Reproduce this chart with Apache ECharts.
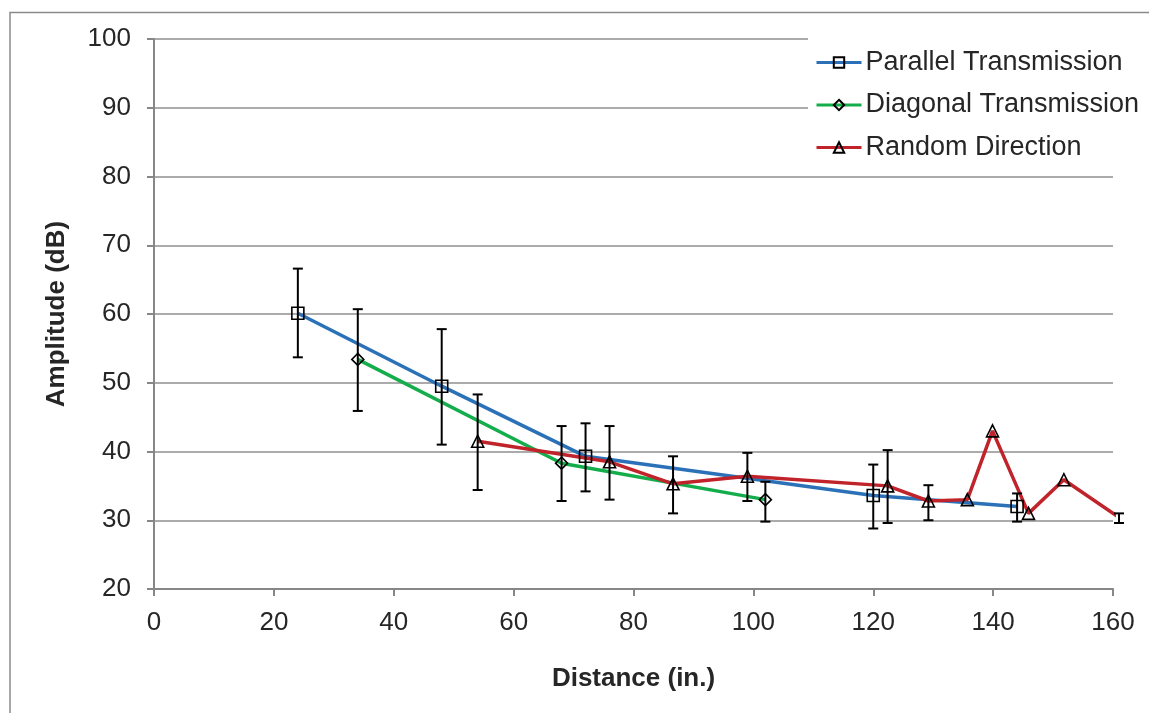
<!DOCTYPE html>
<html>
<head>
<meta charset="utf-8">
<script src="https://cdn.jsdelivr.net/npm/echarts@6/dist/echarts.min.js"></script>
<style>
  html, body { margin: 0; padding: 0; background: #fff; }
  #chart { width: 1149px; height: 713px; }
</style>
</head>
<body>
<div id="chart"></div>
<script>
// Amplitude vs. distance for three transmission set-ups, with error bars
const seriesNames = ['Parallel Transmission', 'Diagonal Transmission', 'Random Direction'];

const parallelX    = [24, 48, 72, 120, 144];
const parallelY    = [60.1, 49.5, 39.3, 33.6, 32.0];
const parallelLow  = [53.7, 41.0, 34.2, 28.8, 29.8];
const parallelHigh = [66.6, 57.8, 44.1, 38.1, 33.9];

const diagonalX    = [34, 68, 102];
const diagonalY    = [53.4, 38.3, 33.0];
const diagonalLow  = [45.9, 32.8, 29.8];
const diagonalHigh = [60.7, 43.7, 35.6];

const randomX    = [54, 76, 86.6, 99, 122.4, 129.2, 135.7, 139.9, 145.9, 151.8, 161];
const randomY    = [41.5, 38.5, 35.3, 36.4, 35.0, 32.8, 33.0, 43.0, 31.0, 35.9, 30.4];
const randomLow  = [34.4, 33.0, 31.0, 32.8, 29.6, 30.0, null, null, null, null, 29.6];
const randomHigh = [48.3, 43.7, 39.3, 39.8, 40.2, 35.1, null, null, null, null, 31.0];

const xTicks = [0, 20, 40, 60, 80, 100, 120, 140, 160];
const yTicks = [20, 30, 40, 50, 60, 70, 80, 90, 100];

const FONT = "'Liberation Sans', Arial, sans-serif";
const TEXT = '#262626';
const AXIS = '#878787';

function points(xs, ys) {
  return xs.map((x, i) => [x, ys[i]]);
}
function bars(xs, lows, highs) {
  const out = [];
  xs.forEach((x, i) => {
    if (lows[i] != null && highs[i] != null) out.push([x, lows[i], highs[i]]);
  });
  return out;
}

// vertical error bar with caps
function renderErrorBar(params, api) {
  const x = api.value(0);
  const lo = api.coord([x, api.value(1)]);
  const hi = api.coord([x, api.value(2)]);
  const half = 5;
  const style = { stroke: '#000', lineWidth: 2 };
  return {
    type: 'group',
    children: [
      { type: 'line', shape: { x1: lo[0], y1: lo[1], x2: hi[0], y2: hi[1] }, style },
      { type: 'line', shape: { x1: hi[0] - half, y1: hi[1], x2: hi[0] + half, y2: hi[1] }, style },
      { type: 'line', shape: { x1: lo[0] - half, y1: lo[1], x2: lo[0] + half, y2: lo[1] }, style }
    ]
  };
}

function lineSeries(name, data, color, symbol) {
  return {
    name,
    type: 'line',
    data,
    symbol,
    symbolSize: 12,
    clip: false,
    z: 3,
    lineStyle: { color, width: 3.5 },
    itemStyle: { color: 'transparent', borderColor: '#000', borderWidth: 1.6 },
    emphasis: { disabled: true },
    animation: false
  };
}

function errSeries(data) {
  return {
    type: 'custom',
    renderItem: renderErrorBar,
    data,
    clip: false,
    z: 4,
    silent: true,
    animation: false
  };
}

const randomPoints = points(randomX, randomY).map((p, i) =>
  i === randomX.length - 1 ? { value: p, symbol: 'none' } : p);

const chart = echarts.init(document.getElementById('chart'), null, { renderer: 'canvas' });

chart.setOption({
  backgroundColor: '#fff',
  animation: false,
  textStyle: { fontFamily: FONT },
  graphic: [{
    type: 'rect',
    shape: { x: 10, y: 12.5, width: 1200, height: 800 },
    style: { fill: 'none', stroke: '#8a8a8a', lineWidth: 1.5 },
    silent: true,
    z: -10
  }],
  grid: { left: 154, right: 36, top: 39, bottom: 124, containLabel: false },
  legend: {
    data: seriesNames,
    orient: 'vertical',
    left: 808,
    top: 34,
    backgroundColor: '#fff',
    padding: [15, 10, 8, 7],
    itemWidth: 45,
    itemHeight: 13,
    itemGap: 15.5,
    lineStyle: { width: 3 },
    textStyle: { fontSize: 27, color: TEXT, fontFamily: FONT, padding: [0, 0, 0, -1] },
    z: 10
  },
  xAxis: {
    type: 'value',
    min: 0, max: 160, interval: 20,
    name: 'Distance (in.)',
    nameLocation: 'middle',
    nameGap: 77,
    nameTextStyle: { fontSize: 26, fontWeight: 'bold', color: TEXT, fontFamily: FONT },
    axisLine: { show: true, onZero: false, lineStyle: { color: AXIS, width: 2 } },
    axisTick: { show: true, inside: false, length: 7, lineStyle: { color: AXIS, width: 2 } },
    axisLabel: {
      fontSize: 26, color: TEXT, margin: 21, fontFamily: FONT,
      formatter: v => (xTicks.includes(v) ? String(v) : '')
    },
    splitLine: { show: false }
  },
  yAxis: {
    type: 'value',
    min: 20, max: 100, interval: 10,
    name: 'Amplitude (dB)',
    nameLocation: 'middle',
    nameGap: 84,
    nameRotate: 90,
    nameTextStyle: { fontSize: 26, fontWeight: 'bold', color: TEXT, fontFamily: FONT },
    axisLine: { show: true, lineStyle: { color: AXIS, width: 2 } },
    axisTick: { show: true, inside: false, length: 7, lineStyle: { color: AXIS, width: 2 } },
    axisLabel: {
      fontSize: 26, color: TEXT, margin: 23, fontFamily: FONT,
      formatter: v => (yTicks.includes(v) ? String(v) : '')
    },
    splitLine: { show: true, lineStyle: { color: '#8f8f8f', width: 1.5 } }
  },
  series: [
    lineSeries(seriesNames[0], points(parallelX, parallelY), '#2a71b8', 'rect'),
    lineSeries(seriesNames[1], points(diagonalX, diagonalY), '#14ad4c', 'diamond'),
    lineSeries(seriesNames[2], randomPoints, '#c1232b', 'triangle'),
    errSeries(bars(parallelX, parallelLow, parallelHigh)),
    errSeries(bars(diagonalX, diagonalLow, diagonalHigh)),
    errSeries(bars(randomX, randomLow, randomHigh))
  ]
});
</script>
</body>
</html>
